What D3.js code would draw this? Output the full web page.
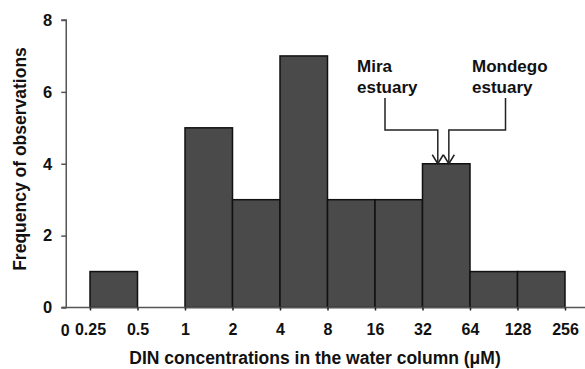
<!DOCTYPE html>
<html><head><meta charset="utf-8">
<script src="https://cdn.jsdelivr.net/npm/d3@7"></script>
<style>body{margin:0;background:#fff}svg{display:block}text{font-family:"Liberation Sans",Arial,sans-serif;font-weight:bold;fill:#111}</style>
</head><body>
<script>
const binEdges = [0.25, 0.5, 1, 2, 4, 8, 16, 32, 64, 128, 256];
const frequencies = [1, 0, 5, 3, 7, 3, 3, 4, 1, 1];
const xTickLabels = ["0.25", "0.5", "1", "2", "4", "8", "16", "32", "64", "128", "256"];
const yTicks = [0, 2, 4, 6, 8];
const annotationLabels = [["Mira", "estuary"], ["Mondego", "estuary"]];
const annotationValues = [40, 47];
const xTitle = "DIN concentrations in the water column (μM)";
const yTitle = "Frequency of observations";

const W = 585, H = 369;
const FONT = "Liberation Sans, Arial, sans-serif";
const svg = d3.select("body").append("svg").attr("width", W).attr("height", H);

const x = d3.scaleLog().base(2).domain([0.25, 256]).range([90, 565]);
const y = d3.scaleLinear().domain([0, 8]).range([307.5, 20]);
const axisX = x(0.25) - (x(0.5) - x(0.25)) / 2; // position of the "0" / y-axis

// bars
const bins = frequencies.map((f, i) => ({x0: binEdges[i], x1: binEdges[i + 1], f}));
svg.append("g").selectAll("rect").data(bins.filter(d => d.f > 0)).join("rect")
  .attr("x", d => x(d.x0)).attr("width", d => x(d.x1) - x(d.x0))
  .attr("y", d => y(d.f)).attr("height", d => y(0) - y(d.f))
  .attr("fill", "#4a4a4a").attr("stroke", "#111").attr("stroke-width", 1.5);

// y axis
const yAxis = svg.append("g").attr("transform", `translate(${axisX},0)`)
  .call(d3.axisLeft(y).tickValues(yTicks).tickSize(5).tickPadding(9).tickFormat(d3.format("d")));
yAxis.select(".domain").attr("stroke", "#555").attr("stroke-width", 1.5).attr("d", `M-5,${y(8)}H0V${y(0)}H-5`);
yAxis.selectAll(".tick line").attr("stroke", "#555").attr("stroke-width", 1.5);
yAxis.selectAll(".tick text").style("font-size", "16.5px").style("font-family", FONT).style("font-weight", "bold").attr("fill", "#111");

// x axis
const xAxis = svg.append("g").attr("transform", `translate(0,${y(0)})`)
  .call(d3.axisBottom(x).tickValues(binEdges).tickSize(3).tickPadding(13).tickFormat((d, i) => xTickLabels[i]));
xAxis.select(".domain").attr("stroke", "#555").attr("stroke-width", 1.5).attr("d", `M${axisX - 4},0H585`);
xAxis.selectAll(".tick line").attr("stroke", "#222").attr("stroke-width", 1.5);
xAxis.selectAll(".tick text").style("font-size", "16px").style("font-family", FONT).style("font-weight", "bold").attr("fill", "#111");
svg.append("text").attr("x", axisX - 1).attr("y", y(0) + 28).attr("text-anchor", "middle")
  .style("font-size", "16px").text("0");

// titles
svg.append("text").attr("x", 315).attr("y", 364).attr("text-anchor", "middle")
  .style("font-size", "17.5px").text(xTitle);
svg.append("text").attr("transform", `translate(26,159) rotate(-90)`).attr("text-anchor", "middle")
  .style("font-size", "17.5px").text(yTitle);

// annotations
const topY = y(4);
const ann = [
  {lines: annotationLabels[0], tx: 357, lx: 385, vx: x(annotationValues[0])},
  {lines: annotationLabels[1], tx: 472, lx: 505.5, vx: x(annotationValues[1])}
];
const g = svg.append("g");
ann.forEach(a => {
  const t = g.append("text").attr("x", a.tx).attr("y", 72).style("font-size", "17px");
  a.lines.forEach((l, i) => t.append("tspan").attr("x", a.tx).attr("dy", i ? 21 : 0).text(l));
  g.append("path").attr("d", `M${a.lx},98V130H${a.vx}V${topY}`)
    .attr("fill", "none").attr("stroke", "#222").attr("stroke-width", 1.5);
  g.append("path").attr("d", `M${a.vx - 5.5},${topY - 9}L${a.vx},${topY}L${a.vx + 5.5},${topY - 9}`)
    .attr("fill", "none").attr("stroke", "#222").attr("stroke-width", 1.5);
});
</script>
</body></html>
